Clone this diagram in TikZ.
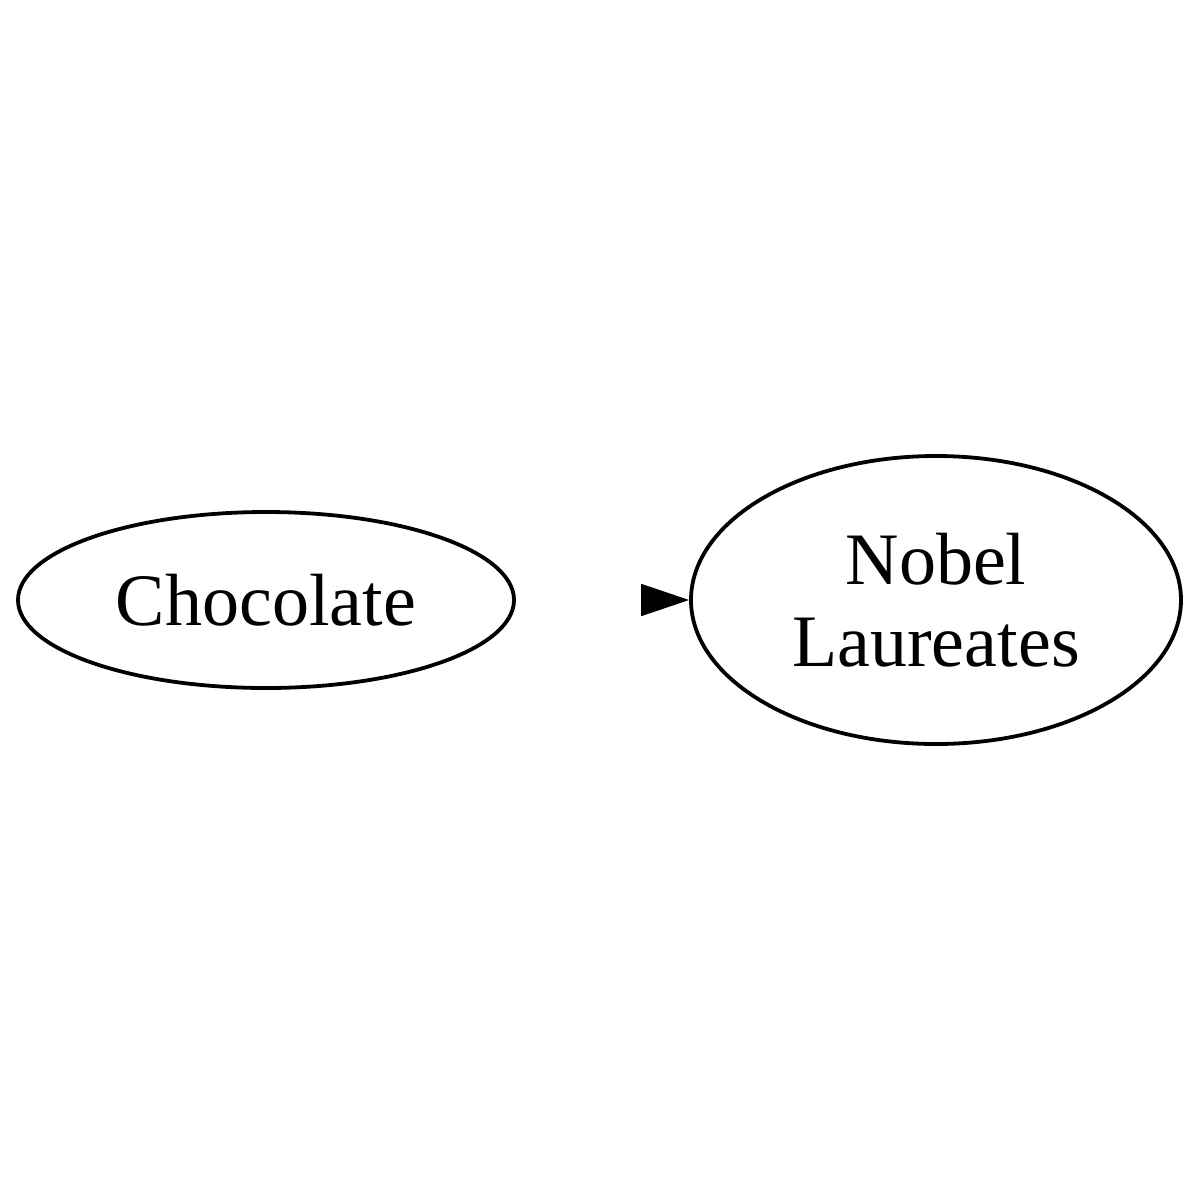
\documentclass[tikz,border=0pt]{standalone}
\usepackage{fontspec}
\setmainfont{Liberation Serif}
\usetikzlibrary{shapes.geometric,arrows.meta}
\begin{document}
\begin{tikzpicture}[x=0.5pt,y=-0.5pt,
  oval/.style={ellipse,draw,line width=1.9pt,inner sep=0pt,font=\fontsize{37}{41}\selectfont,align=center},
  tipedge/.style={line width=0.8pt,-{Triangle[length=24pt,width=16pt]}}]
\useasboundingbox (0,0) rectangle (1200,1200);
\node[oval,minimum width=248pt,minimum height=88pt] (a) at (266,600) {Chocolate};
\node[oval,minimum width=245pt,minimum height=144pt] (b) at (936,600) {Nobel\\Laureates};
\coordinate (c) at (641,600);
\draw[tipedge] (c) -- (b.west);
\end{tikzpicture}
\end{document}
